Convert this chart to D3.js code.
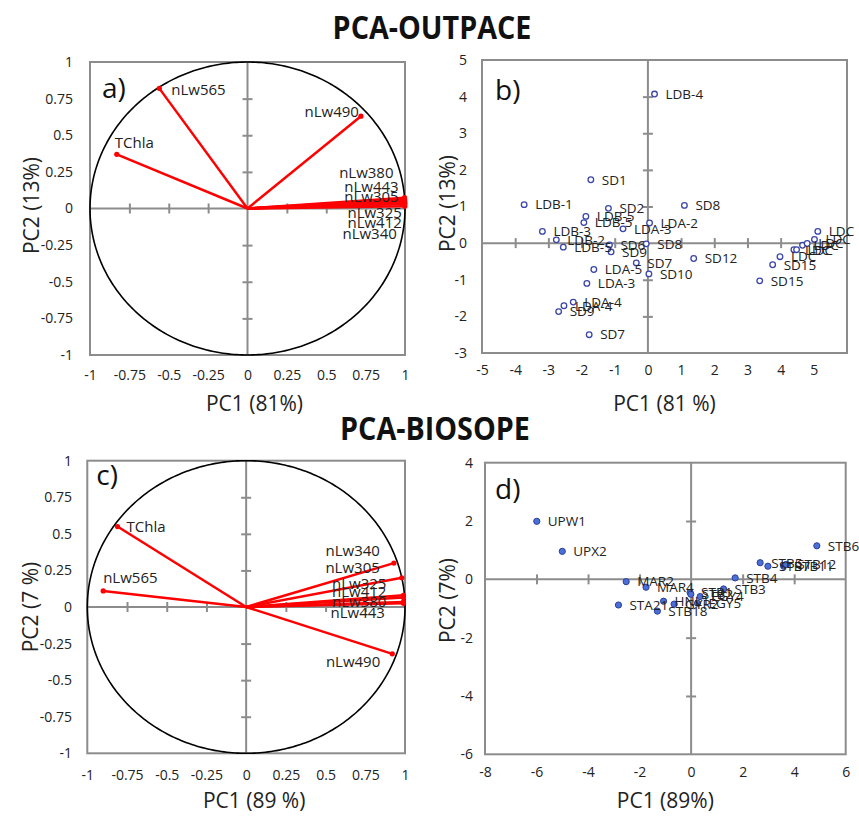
<!DOCTYPE html>
<html><head><meta charset="utf-8">
<script src="https://cdn.jsdelivr.net/npm/d3@7"></script>
<style>body{margin:0;background:#fff}svg{display:block}</style>
</head><body>
<svg id="chart" width="859" height="818"></svg>
<script>
// ---------------- DATA ----------------
// Panel a) PCA-OUTPACE loadings
const aVars = ["TChla","nLw565","nLw490","nLw380","nLw443","nLw305","nLw325","nLw412","nLw340"];
const aPC1  = [-0.83, -0.56, 0.72, 0.997, 0.998, 0.998, 0.999, 0.999, 0.999];
const aPC2  = [0.37, 0.82, 0.63, 0.074, 0.062, 0.05, 0.03, 0.015, 0.04];

// Panel b) PCA-OUTPACE scores
const bStations = ["LDB-4","SD1","LDB-1","SD2","SD8","LDB-5","LDB-5","LDA-3","LDA-2","LDB-3","LDB-2","LDB-5",
  "SD6","SD9","SD8","SD7","SD10","LDA-5","LDA-3","SD12","LDA-4","LDA-4","SD9","SD7",
  "SD15","SD15","LDC","LDC","LDC","LDC","LDC","LDC","LDC"];
const bPC1 = [0.2,-1.72,-3.73,-1.19,1.1,-1.87,-1.93,-0.75,0.05,-3.18,-2.76,-2.55,
  -1.16,-1.11,-0.05,-0.35,0.03,-1.63,-1.84,1.38,-2.25,-2.53,-2.69,-1.77,
  3.37,3.76,3.98,4.4,4.48,4.66,4.8,5.02,5.12];
const bPC2 = [4.07,1.73,1.05,0.95,1.03,0.73,0.56,0.39,0.55,0.32,0.09,-0.11,
  -0.05,-0.24,-0.02,-0.54,-0.84,-0.72,-1.1,-0.42,-1.61,-1.71,-1.87,-2.5,
  -1.03,-0.59,-0.37,-0.18,-0.18,-0.06,-0.01,0.1,0.32];

// Panel c) PCA-BIOSOPE loadings
const cVars = ["TChla","nLw565","nLw340","nLw305","nLw325","nLw412","nLw380","nLw443","nLw490"];
const cPC1  = [-0.81, -0.90, 0.93, 0.98, 0.99, 0.99, 0.99, 0.99, 0.92];
const cPC2  = [0.55, 0.11, 0.30, 0.20, 0.08, 0.065, 0.035, 0.025, -0.32];

// Panel d) PCA-BIOSOPE scores
const dStations = ["UPW1","UPX2","MAR2","MAR4","STA21","STB18","HNL1","GYR2","STB1","STB2","EGY4","EGY5",
  "STB3","STB4","STB5","STB7","STB11","STB12","STB6"];
const dPC1 = [-5.99,-5.0,-2.52,-1.75,-2.82,-1.31,-1.07,-0.66,-0.04,-0.01,0.35,0.25,
  1.26,1.71,2.68,2.98,3.59,3.69,4.88];
const dPC2 = [1.99,0.96,-0.08,-0.27,-0.88,-1.09,-0.75,-0.85,-0.45,-0.51,-0.59,-0.82,
  -0.33,0.05,0.57,0.45,0.45,0.51,1.15];

// Tick values / labels
const circleTicks = [-1,-0.75,-0.5,-0.25,0,0.25,0.5,0.75,1];
const circleTickLabels = ["-1","-0.75","-0.5","-0.25","0","0.25","0.5","0.75","1"];
const bXTicks = [-5,-4,-3,-2,-1,0,1,2,3,4,5];
const bXTickLabels = ["-5","-4","-3","-2","-1","0","1","2","3","4","5"];
const bYTicks = [-3,-2,-1,0,1,2,3,4,5];
const bYTickLabels = ["-3","-2","-1","0","1","2","3","4","5"];
const dXTicks = [-8,-6,-4,-2,0,2,4,6];
const dXTickLabels = ["-8","-6","-4","-2","0","2","4","6"];
const dYTicks = [-6,-4,-2,0,2,4];
const dYTickLabels = ["-6","-4","-2","0","2","4"];

// Label layout (pixel offsets from vector tips), kept apart from data
const aLabelDx = [-2, 12, -2, -11, -6, -6, -3, -3, -8];
const aLabelDy = [-6, 7, 1, -20, -7, 1, 14, 22, 36];
const aLabelAnchor = ["start","start","end","end","end","end","end","end","end"];
const cLabelDx = [9, 0, -14, -22, -17, -17, -17, -18.5, -12];
const cLabelDy = [5, -8, -7, -5, -6, -0.5, 5, 15, 13];
const cLabelAnchor = ["start","start","end","end","end","end","end","end","end"];

// ---------------- DRAWING ----------------
const svg = d3.select("#chart");
const FONT = "'Open Sans', 'Noto Sans', sans-serif";
const GRAY = "#8c8c8c";
const TXT = "#222";

function title(text, cx, baseline) {
  const t = svg.append("text").attr("x", cx).attr("y", baseline)
    .attr("text-anchor", "middle").attr("font-family", FONT).attr("font-weight", 700)
    .attr("font-size", 33).attr("fill", "#111").text(text);
  t.attr("textLength", t.node().getComputedTextLength() * 0.87).attr("lengthAdjust", "spacingAndGlyphs");
}
title("PCA-OUTPACE", 432, 39);
title("PCA-BIOSOPE", 435, 440);

function panel(cfg) {
  const g = svg.append("g");
  const x = d3.scaleLinear().domain(cfg.xDomain).range([cfg.left, cfg.right]);
  const y = d3.scaleLinear().domain(cfg.yDomain).range([cfg.bottom, cfg.top]);

  // zero axes
  g.append("line").attr("x1", cfg.left).attr("x2", cfg.right).attr("y1", y(0)).attr("y2", y(0))
    .attr("stroke", GRAY).attr("stroke-width", 2);
  g.append("line").attr("y1", cfg.top).attr("y2", cfg.bottom).attr("x1", x(0)).attr("x2", x(0))
    .attr("stroke", GRAY).attr("stroke-width", 2);

  // cross tick marks on zero axes
  const inner = (arr, dom) => arr.filter(v => v !== 0 && v > dom[0] && v < dom[1]);
  const tx = g.append("g").attr("transform", `translate(0,${y(0) - 5})`)
    .call(d3.axisBottom(x).tickValues(inner(cfg.xMarks, cfg.xDomain)).tickSize(10).tickFormat(""));
  tx.select(".domain").remove();
  tx.selectAll("line").attr("stroke", GRAY).attr("stroke-width", 2);
  const ty = g.append("g").attr("transform", `translate(${x(0) - 5},0)`)
    .call(d3.axisRight(y).tickValues(inner(cfg.yMarks, cfg.yDomain)).tickSize(10).tickFormat(""));
  ty.select(".domain").remove();
  ty.selectAll("line").attr("stroke", GRAY).attr("stroke-width", 2);

  // tick labels
  const lx = g.append("g").attr("transform", `translate(0,${cfg.xLabelTop})`)
    .call(d3.axisBottom(x).tickValues(cfg.xTicks).tickSize(0).tickPadding(0)
      .tickFormat(d => cfg.xTickLabels[cfg.xTicks.indexOf(d)]));
  lx.select(".domain").remove();
  lx.attr("font-family", FONT).attr("font-size", 14);
  lx.selectAll("text").attr("fill", TXT);
  const ly = g.append("g").attr("transform", `translate(${cfg.yLabelRight},0)`)
    .call(d3.axisLeft(y).tickValues(cfg.yTicks).tickSize(0).tickPadding(0)
      .tickFormat(d => cfg.yTickLabels[cfg.yTicks.indexOf(d)]));
  ly.select(".domain").remove();
  ly.attr("font-family", FONT).attr("font-size", 14);
  ly.selectAll("text").attr("fill", TXT);

  // plot border
  g.append("rect").attr("x", cfg.left).attr("y", cfg.top)
    .attr("width", cfg.right - cfg.left).attr("height", cfg.bottom - cfg.top)
    .attr("fill", "none").attr("stroke", GRAY).attr("stroke-width", 2);

  // axis titles
  g.append("text").attr("x", (cfg.left + cfg.right) / 2 + cfg.xTitleShift).attr("y", cfg.xTitleY)
    .attr("text-anchor", "middle").attr("font-family", FONT).attr("font-size", 21)
    .attr("fill", TXT).text(cfg.xTitle);
  g.append("text").attr("transform", `translate(${cfg.yTitleX},${(cfg.top + cfg.bottom) / 2 + cfg.yTitleShift}) rotate(-90)`)
    .attr("text-anchor", "middle").attr("dominant-baseline", "central")
    .attr("font-family", FONT).attr("font-size", 21).attr("fill", TXT).text(cfg.yTitle);

  // panel letter
  g.append("text").attr("x", cfg.left + cfg.letterDx).attr("y", cfg.top + cfg.letterDy)
    .attr("font-family", FONT).attr("font-size", 28).attr("fill", "#111").text(cfg.letter);

  return {g, x, y};
}

function loadings(p, vars, pc1, pc2, ldx, ldy, lanchor) {
  const {g, x, y} = p;
  const angles = d3.range(0, 2 * Math.PI + 0.01, Math.PI / 180);
  g.append("path").datum(angles)
    .attr("d", d3.line().x(t => x(Math.cos(t))).y(t => y(Math.sin(t))))
    .attr("fill", "none").attr("stroke", "#000").attr("stroke-width", 1.6);
  const idx = d3.range(vars.length);
  g.selectAll(null).data(idx).join("line")
    .attr("x1", x(0)).attr("y1", y(0))
    .attr("x2", i => x(pc1[i])).attr("y2", i => y(pc2[i]))
    .attr("stroke", "#ff0000").attr("stroke-width", 2.5);
  g.selectAll(null).data(idx).join("circle")
    .attr("cx", i => x(pc1[i])).attr("cy", i => y(pc2[i])).attr("r", 2.6).attr("fill", "#ff0000");
  g.selectAll(null).data(idx).join("text")
    .attr("x", i => x(pc1[i]) + ldx[i]).attr("y", i => y(pc2[i]) + ldy[i])
    .attr("text-anchor", i => lanchor[i])
    .attr("font-family", FONT).attr("font-size", 15).attr("fill", TXT)
    .text(i => vars[i]);
}

function scores(p, names, pc1, pc2, filled) {
  const {g, x, y} = p;
  const idx = d3.range(names.length);
  g.selectAll(null).data(idx).join("circle")
    .attr("cx", i => x(pc1[i])).attr("cy", i => y(pc2[i]))
    .attr("r", filled ? 3.1 : 2.8)
    .attr("fill", filled ? "#4a6fd6" : "#fff")
    .attr("stroke", filled ? "#2c3f9e" : "#3b46a8")
    .attr("stroke-width", filled ? 1 : 1.3);
  g.selectAll(null).data(idx).join("text")
    .attr("x", i => x(pc1[i]) + 11).attr("y", i => y(pc2[i]) + 4.8)
    .attr("font-family", FONT).attr("font-size", 13.5).attr("fill", TXT)
    .text(i => names[i]);
}

// a)
const pa = panel({left: 90, right: 405, top: 62, bottom: 355, xDomain: [-1, 1], yDomain: [-1, 1],
  xMarks: circleTicks, yMarks: circleTicks, xTicks: circleTicks, yTicks: circleTicks,
  xTickLabels: circleTickLabels, yTickLabels: circleTickLabels,
  xLabelTop: 370, yLabelRight: 73, xTitle: "PC1 (81%)", xTitleY: 411, xTitleShift: 7,
  yTitle: "PC2 (13%)", yTitleX: 31, yTitleShift: -3, letter: "a)", letterDx: 12, letterDy: 36});
loadings(pa, aVars, aPC1, aPC2, aLabelDx, aLabelDy, aLabelAnchor);

// b)
const pb = panel({left: 482, right: 847, top: 60, bottom: 353, xDomain: [-5, 6], yDomain: [-3, 5],
  xMarks: d3.range(-5, 7), yMarks: bYTicks, xTicks: bXTicks, yTicks: bYTicks,
  xTickLabels: bXTickLabels, yTickLabels: bYTickLabels,
  xLabelTop: 365, yLabelRight: 467, xTitle: "PC1 (81 %)", xTitleY: 411, xTitleShift: 0,
  yTitle: "PC2 (13%)", yTitleX: 447, yTitleShift: -3, letter: "b)", letterDx: 13, letterDy: 40});
scores(pb, bStations, bPC1, bPC2, false);

// c)
const pc = panel({left: 87.3, right: 405, top: 460.7, bottom: 753.3, xDomain: [-1, 1], yDomain: [-1, 1],
  xMarks: circleTicks, yMarks: circleTicks, xTicks: circleTicks, yTicks: circleTicks,
  xTickLabels: circleTickLabels, yTickLabels: circleTickLabels,
  xLabelTop: 770, yLabelRight: 72, xTitle: "PC1 (89 %)", xTitleY: 808, xTitleShift: 8,
  yTitle: "PC2 (7 %)", yTitleX: 30, yTitleShift: 0, letter: "c)", letterDx: 9, letterDy: 24});
loadings(pc, cVars, cPC1, cPC2, cLabelDx, cLabelDy, cLabelAnchor);

// d)
const pd = panel({left: 485, right: 845.7, top: 462.7, bottom: 754.3, xDomain: [-8, 6], yDomain: [-6, 4],
  xMarks: dXTicks, yMarks: dYTicks, xTicks: dXTicks, yTicks: dYTicks,
  xTickLabels: dXTickLabels, yTickLabels: dYTickLabels,
  xLabelTop: 767, yLabelRight: 473, xTitle: "PC1 (89%)", xTitleY: 808, xTitleShift: 0,
  yTitle: "PC2 (7%)", yTitleX: 447, yTitleShift: -8, letter: "d)", letterDx: 10, letterDy: 36});
scores(pd, dStations, dPC1, dPC2, true);
</script>
</body></html>
